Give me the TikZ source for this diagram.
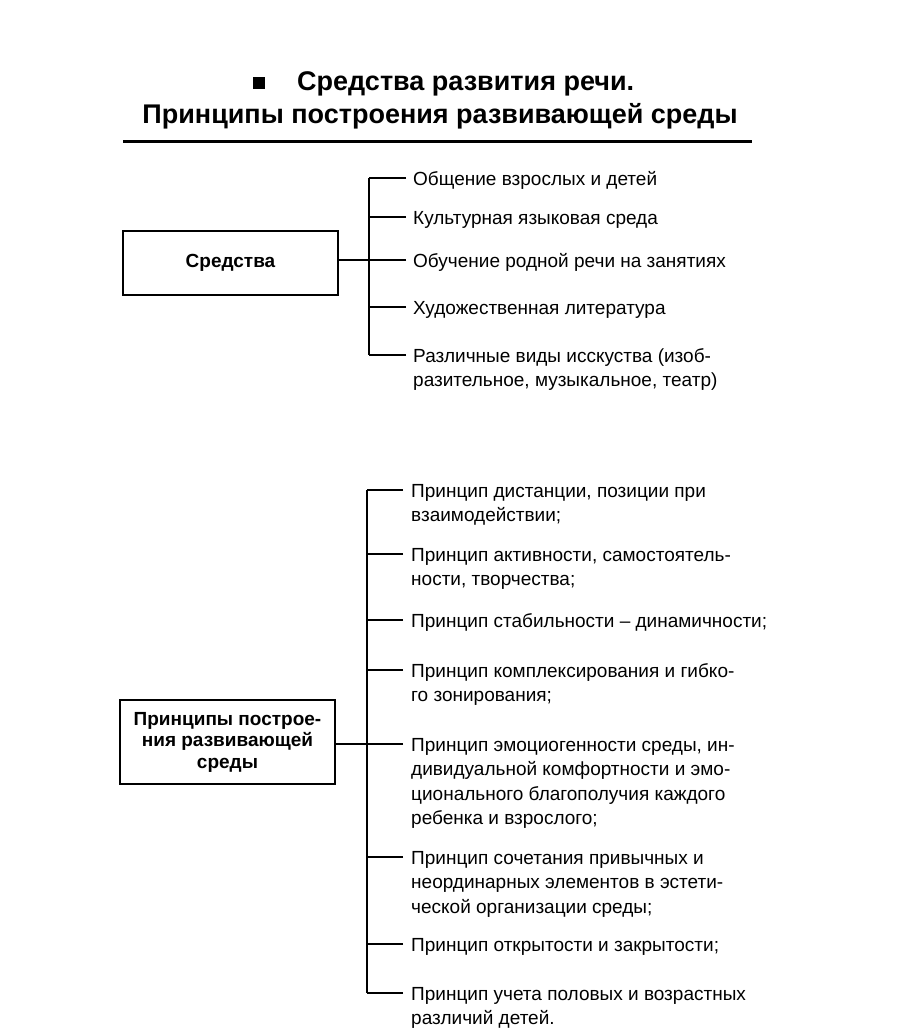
\documentclass[tikz,border=0pt]{standalone}
\usepackage{fontspec}
\setmainfont{Liberation Sans}
\usepackage{tikz}
\usetikzlibrary{positioning,calc}

% lines of one label, its base on the first line
\newcommand{\toplines}[1]{\begin{tabular}[t]{@{}l@{}}#1\end{tabular}}

\begin{document}
\begin{tikzpicture}[
  x=1pt, y=-1pt,
  title/.style={font=\fontsize{27}{32}\selectfont\bfseries, inner sep=0pt},
  head/.style={draw, line width=1.8pt, align=center, font=\fontsize{19}{21.5}\selectfont\bfseries},
  item/.style={anchor=base west, inner sep=0pt, font=\fontsize{19}{24.5}\selectfont},
  link/.style={line width=1.6pt}
]
\useasboundingbox (0,0) rectangle (904,1031);

% ================= TITLE =================
\node[fill, minimum size=12pt, inner sep=0pt] (bul) at (259,83) {};
\node[title, anchor=west] (t1) at (297,84) {Средства развития речи.};
\node[title] (t2) at (440,116) {Принципы построения развивающей среды};
\draw[line width=3pt] (123,141) -- (752,141);

% ================= MEANS =================
\node[head, minimum width=215pt, minimum height=64pt] (sred) at (230.5,263) {Средства};
\node[item] (s1) at (413,185) {\toplines{Общение взрослых и детей}};
\node[item] (s2) at (413,224) {\toplines{Культурная языковая среда}};
\node[item] (s3) at (413,267) {\toplines{Обучение родной речи на занятиях}};
\node[item] (s4) at (413,314) {\toplines{Художественная литература}};
\node[item] (s5) at (413,362) {\toplines{Различные виды исскуства (изоб-\\разительное, музыкальное, театр)}};

\foreach \i in {1,...,5}
  \draw[link] ([xshift=-7pt, yshift=7pt]s\i.base west) -- ++(-37,0) coordinate (sb\i);
\draw[link] (sb1) -- (sb5);
\draw[link] (sred.east |- sb3) -- (sb3);

% ================= PRINCIPLES =================
\node[head, minimum width=215pt, minimum height=84pt] (prin) at (227.5,742) {Принципы построе-\\ния развивающей\\среды};
\node[item] (p1) at (411,497) {\toplines{Принцип дистанции, позиции при\\взаимодействии;}};
\node[item] (p2) at (411,561) {\toplines{Принцип активности, самостоятель-\\ности, творчества;}};
\node[item] (p3) at (411,627) {\toplines{Принцип стабильности -- динамичности;}};
\node[item] (p4) at (411,677) {\toplines{Принцип комплексирования и гибко-\\го зонирования;}};
\node[item] (p5) at (411,751) {\toplines{Принцип эмоциогенности среды, ин-\\дивидуальной комфортности и эмо-\\ционального благополучия каждого\\ребенка и взрослого;}};
\node[item] (p6) at (411,864) {\toplines{Принцип сочетания привычных и\\неординарных элементов в эстети-\\ческой организации среды;}};
\node[item] (p7) at (411,951) {\toplines{Принцип открытости и закрытости;}};
\node[item] (p8) at (411,1000) {\toplines{Принцип учета половых и возрастных\\различий детей.}};

\foreach \i in {1,...,8}
  \draw[link] ([xshift=-8pt, yshift=7pt]p\i.base west) -- ++(-36,0) coordinate (pb\i);
\draw[link] (pb1) -- (pb8);
\draw[link] (prin.east |- pb5) -- (pb5);

\end{tikzpicture}
\end{document}
